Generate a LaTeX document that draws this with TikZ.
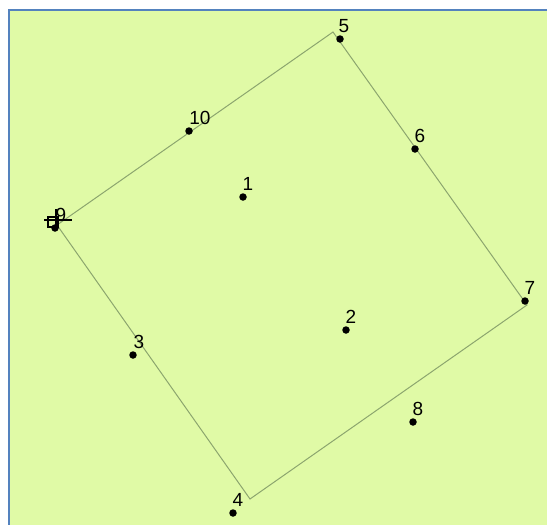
\documentclass[tikz,border=0pt]{standalone}
\usepackage{fontspec}
\setmainfont{Liberation Sans}
\usepackage{tikz}
\usetikzlibrary{positioning}
\definecolor{mapgreen}{RGB}{224,250,166}
\definecolor{mapedge}{RGB}{140,165,110}
\definecolor{frameblue}{RGB}{84,130,190}
\tikzstyle{pt} = [circle, fill=black, inner sep=0pt, minimum size=7.5pt]
\tikzstyle{lbl} = [inner sep=0pt, font=\fontsize{19}{19}\selectfont, label distance=2.5pt]
\tikzstyle{edge} = [draw=mapedge, line width=1pt]

\begin{document}
\begin{tikzpicture}[x=1pt, y=-1pt]
  \useasboundingbox (0,0) rectangle (547,525);
  \fill[white] (0,0) rectangle (547,525);
  \fill[mapgreen] (9,10) rectangle (547,525);
  \draw[frameblue, line width=2pt] (9,525) -- (9,10) -- (547,10);

  % polygon corners
  \coordinate (ca) at (57,225);
  \coordinate (cb) at (333,32);
  \coordinate (cc) at (527,305);
  \coordinate (cd) at (250,499);
  \draw[edge] (ca) -- (cb) -- (cc) -- (cd) -- cycle;

  % points
  \node[pt, label={[lbl, xshift=5pt]above:1}](p1) at (243,197) {};
  \node[pt, label={[lbl, xshift=5pt]above:2}](p2) at (346,330) {};
  \node[pt, label={[lbl, xshift=6pt]above:3}](p3) at (133,355) {};
  \node[pt, label={[lbl, xshift=5pt]above:4}](p4) at (233,513) {};
  \node[pt, label={[lbl, xshift=4pt]above:5}](p5) at (340,39) {};
  \node[pt, label={[lbl, xshift=5pt]above:6}](p6) at (415,149) {};
  \node[pt, label={[lbl, xshift=5pt]above:7}](p7) at (525,301) {};
  \node[pt, label={[lbl, xshift=5pt]above:8}](p8) at (413,422) {};
  \node[pt, label={[lbl, xshift=6pt]above:9}](p9) at (55,228) {};
  \node[pt, label={[lbl, xshift=11pt]above:10}](p10) at (189,131) {};

  % cursor mark
  \node[draw=black, line width=1.1pt, minimum size=10pt, inner sep=0pt](cur) at (53,222) {};
  \draw[line width=1.1pt] ([xshift=-9pt, yshift=2pt]cur.center) -- ([xshift=19pt, yshift=2pt]cur.center);
  \draw[line width=1.1pt] ([xshift=3pt, yshift=-7pt]cur.center) -- ([xshift=3pt, yshift=13pt]cur.center);
\end{tikzpicture}
\end{document}
